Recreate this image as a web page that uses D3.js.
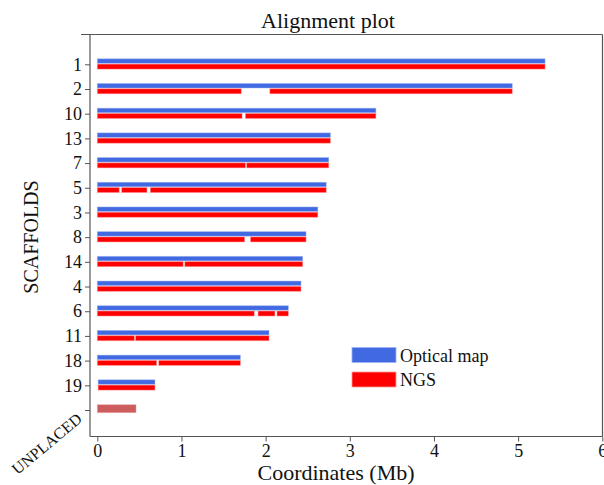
<!DOCTYPE html>
<html><head><meta charset="utf-8">
<script src="https://cdn.jsdelivr.net/npm/d3@7/dist/d3.min.js"></script>
<style>
html,body{margin:0;padding:0;background:#fff;}
svg{display:block;font-family:"Liberation Serif","DejaVu Serif",serif;}
</style></head><body>
<svg id="chart" width="604" height="485"></svg>
<script>
// ---- data ----
const scaffolds = ["1","2","10","13","7","5","3","8","14","4","6","11","18","19"];
const unplacedLabel = "UNPLACED";
// optical map extents [start, end] in Mb
const opticalStart = [0,0,0,0,0,0,0,0,0,0,0,0,0,0.01];
const opticalEnd   = [5.32,4.93,3.31,2.77,2.75,2.72,2.62,2.48,2.44,2.42,2.27,2.04,1.70,0.685];
// NGS contig segments per scaffold [start, end] in Mb
const ngsSegments = [
  [[0,5.32]],
  [[0,1.71],[2.05,4.93]],
  [[0,1.72],[1.76,3.31]],
  [[0,2.77]],
  [[0,1.76],[1.775,2.75]],
  [[0,0.26],[0.29,0.59],[0.63,2.72]],
  [[0,2.62]],
  [[0,1.75],[1.82,2.48]],
  [[0,1.02],[1.04,2.44]],
  [[0,2.42]],
  [[0,1.865],[1.91,2.11],[2.135,2.27]],
  [[0,0.44],[0.455,2.04]],
  [[0,0.705],[0.73,1.70]],
  [[0.01,0.685]]
];
const unplacedLength = 0.46;
const xTicks = [0,1,2,3,4,5,6];
const legendItems = ["Optical map","NGS"];
const colors = {optical:"#4169E1", ngs:"#FF0000", unplaced:"#CD5C5C"};

// ---- layout ----
const svg = d3.select("#chart");
const plotL = 90, plotR = 602.5, plotT = 34.5, plotB = 436.5;
const x = d3.scaleLinear().domain([0,6]).range([97.3,602.3]);
const y = d3.scalePoint().domain(scaffolds.concat([unplacedLabel])).range([64.3,410]);
const axisColor = "#555";
const textColor = "#111";

// frame
svg.append("line").attr("x1",81).attr("x2",plotR).attr("y1",plotT).attr("y2",plotT).attr("stroke",axisColor).attr("stroke-width",1.2);
svg.append("line").attr("x1",plotR).attr("x2",plotR).attr("y1",plotT).attr("y2",plotB).attr("stroke",axisColor).attr("stroke-width",1.2);

// bars
const g = svg.append("g");
scaffolds.forEach((s,i)=>{
  const c = y(s);
  g.append("rect").attr("x",x(opticalStart[i])).attr("width",x(opticalEnd[i])-x(opticalStart[i]))
    .attr("y",c-5.5).attr("height",4.5).attr("fill",colors.optical)
    .attr("stroke","#9fb3ef").attr("stroke-width",0.8).attr("stroke-opacity",0.6);
  ngsSegments[i].forEach(seg=>{
    g.append("rect").attr("x",x(seg[0])).attr("width",x(seg[1])-x(seg[0]))
      .attr("y",c-0.2).attr("height",5).attr("fill",colors.ngs)
      .attr("stroke","#ff9a9a").attr("stroke-width",0.8).attr("stroke-opacity",0.6);
  });
});
{
  const c = y(unplacedLabel);
  g.append("rect").attr("x",x(0)).attr("width",x(unplacedLength)-x(0))
    .attr("y",c-5.3).attr("height",8).attr("fill",colors.unplaced)
    .attr("stroke","#e8a8a8").attr("stroke-width",0.8).attr("stroke-opacity",0.6);
}

// x axis
const xAxis = d3.axisBottom(x).tickValues(xTicks).tickFormat(d3.format("d")).tickSize(5).tickSizeOuter(0).tickPadding(3);
const gx = svg.append("g").attr("transform",`translate(0,${plotB})`).call(xAxis);
gx.select(".domain").remove();
svg.append("line").attr("x1",plotL).attr("x2",plotR).attr("y1",plotB).attr("y2",plotB).attr("stroke",axisColor).attr("stroke-width",1.2);
gx.selectAll(".tick line").attr("stroke",axisColor);
gx.selectAll(".tick text").attr("font-size",18).attr("fill",textColor).attr("font-family","Liberation Serif, serif");

// y axis
const yAxis = d3.axisLeft(y).tickSize(5).tickSizeOuter(0).tickPadding(3);
const gy = svg.append("g").attr("transform",`translate(${plotL},0)`).call(yAxis);
gy.select(".domain").remove();
svg.append("line").attr("x1",plotL).attr("x2",plotL).attr("y1",plotT).attr("y2",plotB).attr("stroke",axisColor).attr("stroke-width",1.2);
gy.selectAll(".tick line").attr("stroke",axisColor);
gy.selectAll(".tick text").attr("font-size",18).attr("fill",textColor).attr("font-family","Liberation Serif, serif");
gy.selectAll(".tick").filter(d=>d===unplacedLabel).select("text")
  .attr("font-size",16).attr("x",0).attr("dy",0).attr("text-anchor","end")
  .attr("transform","translate(-7,10) rotate(-40)");

// titles
svg.append("text").attr("x",328).attr("y",28).attr("text-anchor","middle").attr("font-size",22).attr("fill",textColor).text("Alignment plot");
svg.append("text").attr("x",336).attr("y",480).attr("text-anchor","middle").attr("font-size",22).attr("fill",textColor).text("Coordinates (Mb)");
svg.append("text").attr("transform","translate(38,237) rotate(-90)").attr("text-anchor","middle").attr("font-size",20).attr("fill",textColor).text("SCAFFOLDS");

// legend
const lg = svg.append("g");
legendItems.forEach((t,i)=>{
  const yy = 347.5 + i*24.5;
  lg.append("rect").attr("x",352).attr("y",yy).attr("width",44).attr("height",15)
    .attr("fill", i===0?colors.optical:colors.ngs)
    .attr("stroke", i===0?"#9fb3ef":"#ff9a9a").attr("stroke-width",0.8);
  lg.append("text").attr("x",400).attr("y",yy+14).attr("font-size",18).attr("fill",textColor).text(t);
});
</script>
</body></html>
